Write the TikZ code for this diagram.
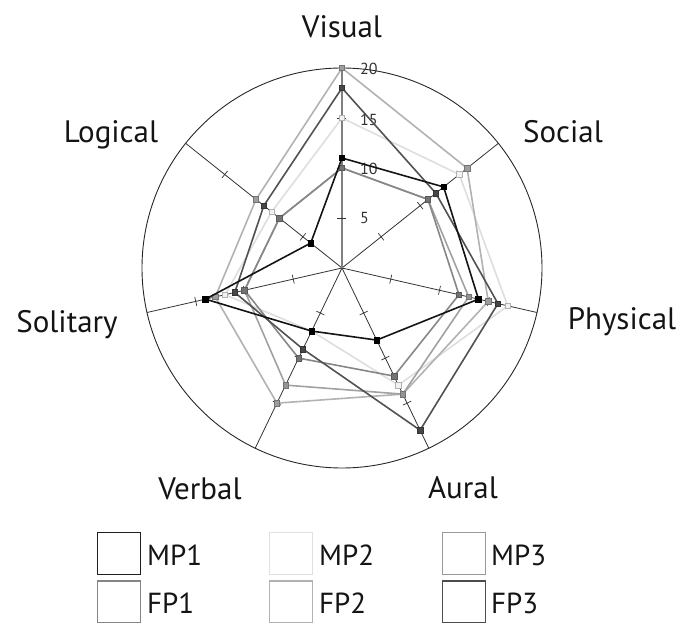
\documentclass[tikz,border=0pt]{standalone}
\usepackage{fontspec}
\setmainfont{PT Sans}
\begin{document}
\begin{tikzpicture}[x=1pt,y=1pt,
  axisline/.style={draw=black!80, line width=0.8pt},
  visaxis/.style={draw=black!50, line width=1.3pt},
  tickmark/.style={draw=black!80, line width=0.7pt},
  rim/.style={draw=black!85, line width=0.9pt},
  catlabel/.style={font=\fontsize{31}{36}\selectfont, anchor=base, text=black!92},
  scalelabel/.style={font=\fontsize{16}{18}\selectfont, anchor=west, text=black!80, inner sep=0pt},
  legbox/.style={line width=1.6pt, minimum width=43pt, minimum height=42pt, inner sep=0pt},
  legtext/.style={font=\fontsize{29}{34}\selectfont, anchor=base west, inner sep=0pt, text=black!92},
  mk/.style={rectangle, inner sep=0pt, minimum size=5.5pt, line width=0.6pt},
  lmpA/.style={draw=black!92, line width=1.6pt, line join=round},
  lmpB/.style={draw=black!13, line width=1.6pt, line join=round},
  lmpC/.style={draw=black!37, line width=1.6pt, line join=round},
  lfpA/.style={draw=black!47, line width=1.6pt, line join=round},
  lfpB/.style={draw=black!30, line width=1.6pt, line join=round},
  lfpC/.style={draw=black!68, line width=1.6pt, line join=round},
  mmpA/.style={mk, fill=black, draw=black},
  mmpB/.style={mk, fill=black!5, draw=black!30},
  mmpC/.style={mk, fill=black!42, draw=black!55},
  mfpA/.style={mk, fill=black!55, draw=black!65},
  mfpB/.style={mk, fill=black!38, draw=black!55},
  mfpC/.style={mk, fill=black!72, draw=black!80},
]
\useasboundingbox (-342,-355) rectangle (341,268);

% outer ring and the seven spokes
\draw[rim] (0,0) circle (200);
\coordinate (c) at (0,0);
\foreach \k in {1,...,6} {
  \coordinate (ax\k) at ({90-\k*360/7}:200);
  \draw[axisline] (c) -- (ax\k);
  \foreach \r in {50,100,150}
    \draw[tickmark] ({90-\k*360/7}:\r) ++({-\k*360/7}:4.5) -- ++({180-\k*360/7}:9);
}
\coordinate (ax0) at (90:200);
\draw[visaxis] (c) -- (ax0);
\foreach \r in {50,100,150}
  \draw[tickmark] (-4.5,\r) -- (4.5,\r);

% scale on the upper spoke
\node[scalelabel] (s5)  at (18,50)  {5};
\node[scalelabel] (s10) at (18,99)  {10};
\node[scalelabel] (s15) at (18,148) {15};
\node[scalelabel] (s20) at (18,199) {20};

% one data series: name, line style, marker style, seven values
\newcommand\radarseries[4]{%
  \foreach \v [count=\k from 0] in {#4}
    \coordinate (#1-\k) at ({90-\k*360/7}:{\v*10});
  \draw[#2] (#1-0) -- (#1-1) -- (#1-2) -- (#1-3) -- (#1-4) -- (#1-5) -- (#1-6) -- cycle;
  \foreach \k in {0,...,6}
    \node[#3] (#1-m\k) at (#1-\k) {};
}

% order: Visual, Social, Physical, Aural, Verbal, Solitary, Logical
\radarseries{mpB}{lmpB}{mmpB}{15,15,17,13,7,12,9}
\radarseries{fpB}{lfpB}{mfpB}{20,16,15,14,15,13,11}
\radarseries{mpC}{lmpC}{mmpC}{10,11,13,14,13,10,8}
\radarseries{fpA}{lfpA}{mfpA}{10,11,12,12,10,10,8}
\radarseries{fpC}{lfpC}{mfpC}{18,12,16,18,9,11,10}
\radarseries{mpA}{lmpA}{mmpA}{11,13,14,8,7,14,4}

% category names
\node[catlabel] (lVisual)   at (0,230)     {Visual};
\node[catlabel] (lSocial)   at (221,125)   {Social};
\node[catlabel] (lPhysical) at (280,-62)   {Physical};
\node[catlabel] (lAural)    at (121,-230)  {Aural};
\node[catlabel] (lVerbal)   at (-142,-232) {Verbal};
\node[catlabel] (lSolitary) at (-275,-65)  {Solitary};
\node[catlabel] (lLogical)  at (-231,125)  {Logical};

% legend
\node[legbox, draw=black!88] (kA) at (-223,-285.5) {};
\node[legbox, draw=black!12] (kB) at (-51,-285.5) {};
\node[legbox, draw=black!40] (kC) at (122,-285.5) {};
\node[legbox, draw=black!48] (kD) at (-223,-334) {};
\node[legbox, draw=black!30] (kE) at (-51,-334) {};
\node[legbox, draw=black!70] (kF) at (122,-334) {};
\node[legtext] (tA) at (-195,-297) {MP1};
\node[legtext] (tB) at (-23,-297)  {MP2};
\node[legtext] (tC) at (149,-297)  {MP3};
\node[legtext] (tD) at (-195,-345) {FP1};
\node[legtext] (tE) at (-23,-345)  {FP2};
\node[legtext] (tF) at (149,-345)  {FP3};
\end{tikzpicture}
\end{document}
